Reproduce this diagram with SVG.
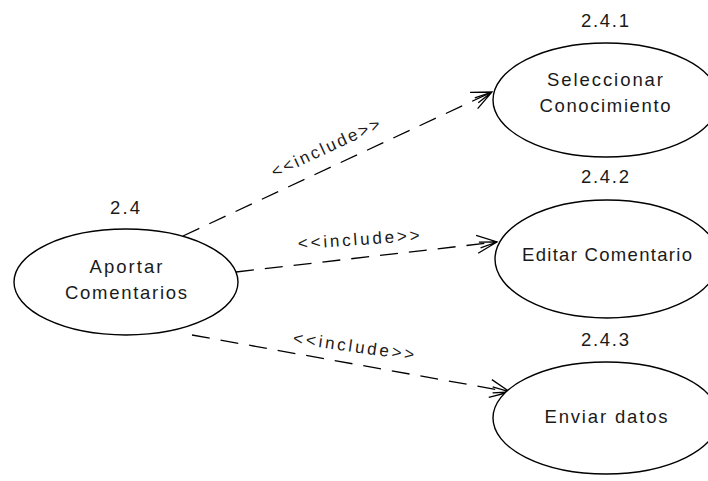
<svg xmlns="http://www.w3.org/2000/svg" width="708" height="481" viewBox="0 0 708 481">
<style>
.uc{fill:#fff;stroke:#000;stroke-width:1.4}
.t{font-family:"Liberation Sans",Arial,sans-serif;font-size:18.5px;fill:#1a1a1a;text-anchor:middle}
.lbl{font-family:"Liberation Sans",Arial,sans-serif;font-size:17px;fill:#1a1a1a;text-anchor:middle}
.dep{fill:none;stroke:#000;stroke-width:1.3;stroke-dasharray:18 11}
</style>
<defs>
<marker id="open" markerUnits="userSpaceOnUse" markerWidth="24" markerHeight="20" refX="21" refY="10" orient="auto" viewBox="0 0 24 20">
<path d="M1,1 L21,10 L1,19 M21,10 L3,8 M21,10 L4,14" fill="none" stroke="#000" stroke-width="1.3"/>
</marker>
</defs>
<rect width="708" height="481" fill="#fff"/>
<g id="connectors">
<line class="dep" x1="183" y1="236" x2="492" y2="92" marker-end="url(#open)"/>
<line class="dep" x1="236" y1="272" x2="497" y2="242" marker-end="url(#open)"/>
<line class="dep" x1="192" y1="335" x2="510" y2="392" marker-end="url(#open)"/>
<text class="lbl" transform="translate(328,153) rotate(-25)" textLength="118" lengthAdjust="spacing">&lt;&lt;include&gt;&gt;</text>
<text class="lbl" transform="translate(359,245) rotate(-4)" textLength="122" lengthAdjust="spacing">&lt;&lt;include&gt;&gt;</text>
<text class="lbl" transform="translate(353,352) rotate(8)" textLength="122" lengthAdjust="spacing">&lt;&lt;include&gt;&gt;</text>
</g>
<g id="uc24">
<ellipse class="uc" cx="126" cy="282" rx="112" ry="53"/>
<text class="t" x="125" y="214" textLength="30" lengthAdjust="spacing">2.4</text>
<text class="t" x="126" y="273" textLength="73" lengthAdjust="spacing">Aportar</text>
<text class="t" x="126" y="299" textLength="122" lengthAdjust="spacing">Comentarios</text>
</g>
<g id="uc241">
<ellipse class="uc" cx="606" cy="100" rx="113" ry="57"/>
<text class="t" x="605" y="27" textLength="48" lengthAdjust="spacing">2.4.1</text>
<text class="t" x="605" y="86" textLength="116" lengthAdjust="spacing">Seleccionar</text>
<text class="t" x="605" y="112" textLength="131" lengthAdjust="spacing">Conocimiento</text>
</g>
<g id="uc242">
<ellipse class="uc" cx="607" cy="259" rx="112" ry="59"/>
<text class="t" x="605" y="183" textLength="48" lengthAdjust="spacing">2.4.2</text>
<text class="t" x="607" y="261" textLength="170" lengthAdjust="spacing">Editar Comentario</text>
</g>
<g id="uc243">
<ellipse class="uc" cx="606" cy="418" rx="113" ry="56"/>
<text class="t" x="605" y="346" textLength="48" lengthAdjust="spacing">2.4.3</text>
<text class="t" x="606" y="423" textLength="123" lengthAdjust="spacing">Enviar datos</text>
</g>
</svg>
